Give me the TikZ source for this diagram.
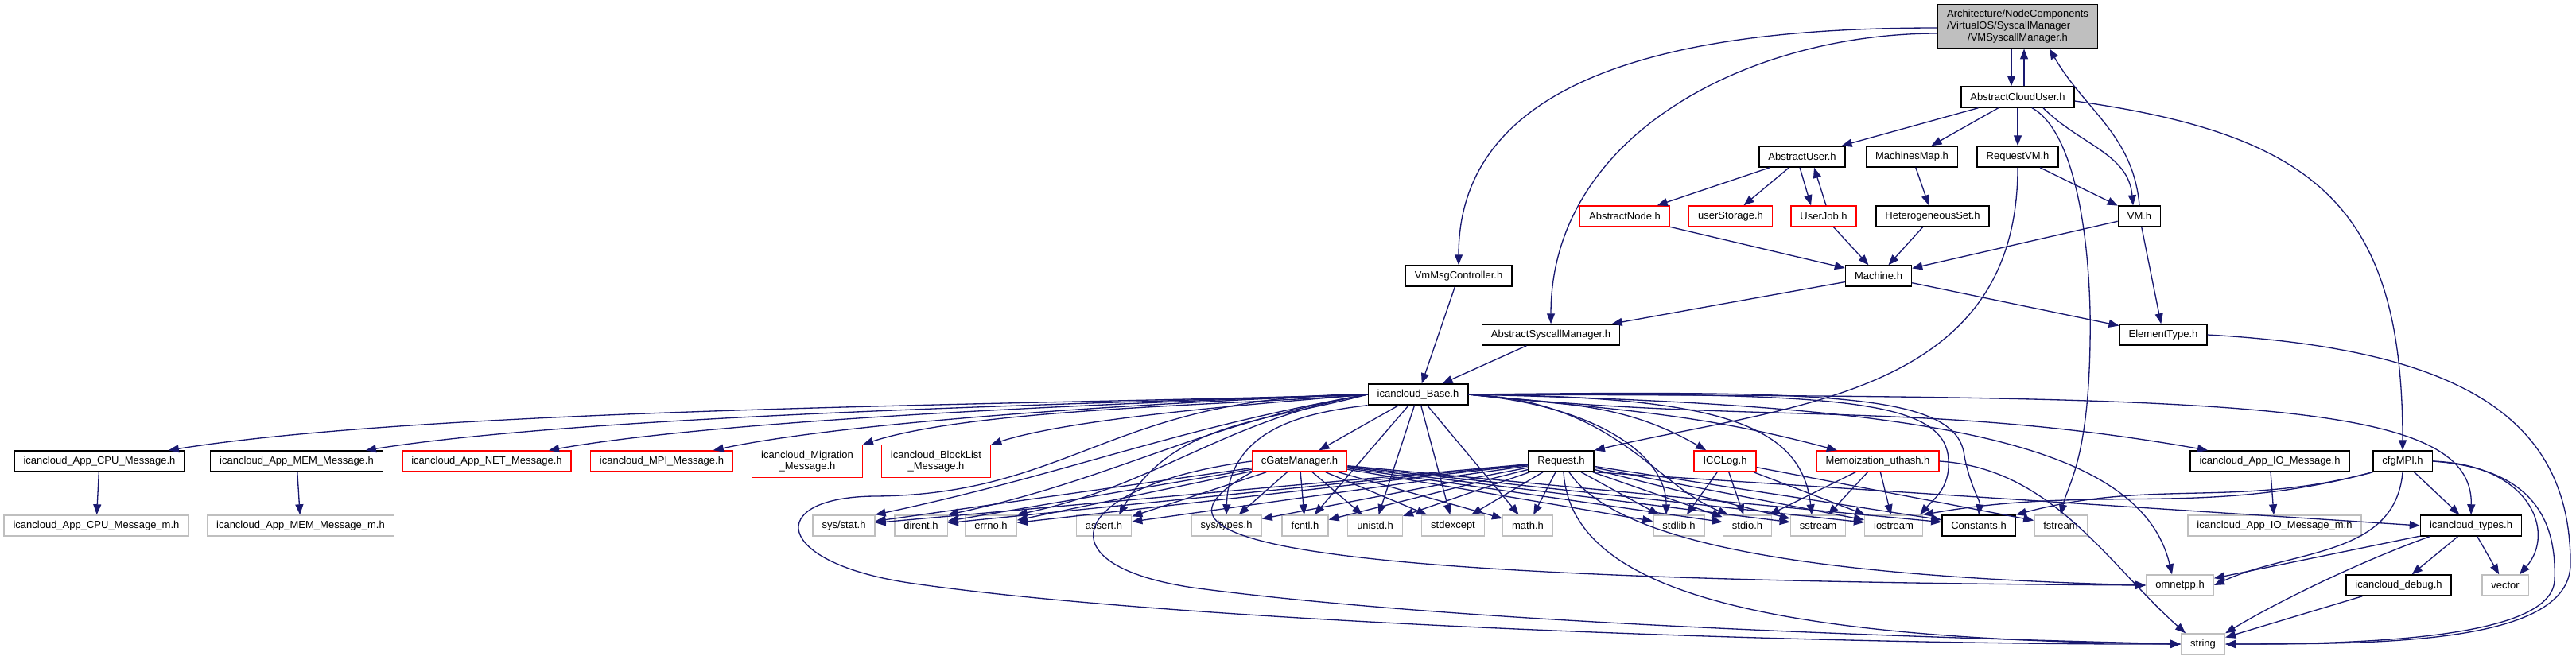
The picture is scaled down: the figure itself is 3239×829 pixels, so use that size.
\documentclass[tikz,border=0pt]{standalone}
\usepackage{fontspec}
\setmainfont{Liberation Sans}
\usetikzlibrary{arrows.meta}
\definecolor{edge}{HTML}{191970}
\definecolor{sysline}{HTML}{BFBFBF}
\definecolor{rootfill}{HTML}{BFBFBF}
\tikzset{
  filebox/.style={draw=black,fill=white,line width=0.35pt,font=\fontsize{3.25}{3.675}\selectfont,inner xsep=2.875pt,inner ysep=1.75pt,minimum height=6.5pt,align=center},
  rootbox/.style={filebox,fill=rootfill,align=left},
  redbox/.style={filebox,draw=red},
  sysbox/.style={filebox,draw=sysline},
  inc/.style={-{Triangle[length=3.25pt,width=2.5pt]},draw=edge,line width=0.33pt}
}

\begin{document}
\begin{tikzpicture}[x=0.25pt,y=0.25pt]
\useasboundingbox (0,0) rectangle (3239,829);

\node[rootbox] (root) at (2537,796) {Architecture/NodeComponents\\/VirtualOS/SyscallManager\\\hspace*{6.5pt}/VMSyscallManager.h};
\node[filebox] (acu) at (2537,707) {AbstractCloudUser.h};
\node[filebox] (au) at (2266,632) {AbstractUser.h};
\node[filebox] (mm) at (2404,632) {MachinesMap.h};
\node[filebox] (rvm) at (2537,632) {RequestVM.h};
\node[redbox] (an) at (2043,557) {AbstractNode.h};
\node[redbox] (us) at (2176,557) {userStorage.h};
\node[redbox] (uj) at (2293,557) {UserJob.h};
\node[filebox] (hs) at (2430,557) {HeterogeneousSet.h};
\node[filebox] (vm) at (2690,557) {VM.h};
\node[filebox] (vmc) at (1834,482) {VmMsgController.h};
\node[filebox] (mach) at (2362,482) {Machine.h};
\node[filebox] (asm) at (1950,408) {AbstractSyscallManager.h};
\node[filebox] (et) at (2720,408) {ElementType.h};
\node[filebox] (base) at (1783,333) {icancloud\_Base.h};

\node[filebox] (cpu) at (125,249) {icancloud\_App\_CPU\_Message.h};
\node[filebox] (mem) at (373,249) {icancloud\_App\_MEM\_Message.h};
\node[redbox] (net) at (612,249) {icancloud\_App\_NET\_Message.h};
\node[redbox] (mpi) at (832,249) {icancloud\_MPI\_Message.h};
\node[redbox] (mig) at (1015,249) {icancloud\_Migration\\\_Message.h};
\node[redbox] (bl) at (1177,249) {icancloud\_BlockList\\\_Message.h};
\node[redbox] (cgm) at (1634,249) {cGateManager.h};
\node[filebox] (req) at (1963,249) {Request.h};
\node[redbox] (icc) at (2169,249) {ICCLog.h};
\node[redbox] (memo) at (2361,249) {Memoization\_uthash.h};
\node[filebox] (io) at (2854,249) {icancloud\_App\_IO\_Message.h};
\node[filebox] (cfg) at (3021,249) {cfgMPI.h};

\node[sysbox] (cpum) at (121,168) {icancloud\_App\_CPU\_Message\_m.h};
\node[sysbox] (memm) at (378,168) {icancloud\_App\_MEM\_Message\_m.h};
\node[sysbox] (stat) at (1061,168) {sys/stat.h};
\node[sysbox] (dirent) at (1158,168) {dirent.h};
\node[sysbox] (errno) at (1246,168) {errno.h};
\node[sysbox] (assert) at (1388,168) {assert.h};
\node[sysbox] (systypes) at (1542,168) {sys/types.h};
\node[sysbox] (fcntl) at (1641,168) {fcntl.h};
\node[sysbox] (unistd) at (1729,168) {unistd.h};
\node[sysbox] (stdexcept) at (1827,168) {stdexcept};
\node[sysbox] (math) at (1921,168) {math.h};
\node[sysbox] (stdlib) at (2111,168) {stdlib.h};
\node[sysbox] (stdio) at (2197,168) {stdio.h};
\node[sysbox] (sstream) at (2286,168) {sstream};
\node[sysbox] (iostream) at (2381,168) {iostream};
\node[filebox] (const) at (2488,168) {Constants.h};
\node[sysbox] (fstream) at (2591,168) {fstream};
\node[sysbox] (iom) at (2860,168) {icancloud\_App\_IO\_Message\_m.h};
\node[filebox] (types) at (3107,168) {icancloud\_types.h};

\node[sysbox] (omnet) at (2741,93) {omnetpp.h};
\node[filebox] (debug) at (3016,93) {icancloud\_debug.h};
\node[sysbox] (vector) at (3150,93) {vector};
\node[sysbox] (string) at (2770,19) {string};

\draw[inc] ([xshift=-2pt]root.south) -- ([xshift=-2pt]acu.north);
\draw[inc] ([xshift=2pt]acu.north) -- ([xshift=2pt]root.south);
\draw[inc] ([yshift=-0.5pt]root.west) to[out=180,in=90] (vmc.north);
\draw[inc] ([yshift=-2.25pt]root.west) to[out=180,in=90] (asm.north);
\draw[inc] (vm.north) to[out=95,in=-60] ([xshift=10pt]root.south);

\foreach \t in {au,mm,rvm}
  \draw[inc] (acu) -- (\t);
\draw[inc] ([xshift=8pt]acu.south) to[out=-45,in=95] ([xshift=-2pt]vm.north);
\draw[inc] ([xshift=4.5pt]acu.south) .. controls (2615,660) and (2630,500) .. (2628,400) .. controls (2626,250) and (2600,220) .. (fstream.north);
\draw[inc] ([yshift=-1.25pt]acu.east) to[out=-8,in=90,looseness=1.3] (cfg.north);

\draw[inc] (au) -- (an);
\draw[inc] (au) -- (us);
\draw[inc] ([xshift=-0.75pt]au.south) -- ([xshift=-4pt]uj.north);
\draw[inc] ([xshift=0.75pt]uj.north) -- ([xshift=3.75pt]au.south);
\draw[inc] (mm) -- (hs);
\draw[inc] (rvm) -- (vm);
\draw[inc] (rvm.south) .. controls (2537,330) and (2250,320) .. (req.north east);
\foreach \s in {an,uj,hs,vm}
  \draw[inc] (\s) -- (mach);
\draw[inc] (vm) -- (et);
\draw[inc] (vmc) -- (base);
\draw[inc] (mach) -- (asm);
\draw[inc] (mach) -- (et);
\draw[inc] (asm) -- (base);
\draw[inc] (et.east) .. controls (3100,390) and (3232,300) .. (3232,120) .. controls (3232,20) and (3000,19) .. (string.east);

\foreach \t/\a in {cpu/9,mem/9,net/10,mpi/12}
  \draw[inc] (base.west) to[out=182,in=\a,looseness=0.6] (\t);
\foreach \t in {mig,bl}
  \draw[inc] (base.west) to[out=185,in=18,looseness=0.6] (\t.north east);
\foreach \t in {stat,dirent,errno}
  \draw[inc] (base.west) to[out=190,in=12] (\t.north east);
\draw[inc] (base.west) to[out=195,in=60] ([xshift=4.75pt]assert.north);
\draw[inc] (base.south west) .. controls (1640,310) and (1545,290) .. (systypes.north);
\foreach \t in {cgm,fcntl,unistd,stdexcept,math}
  \draw[inc] (base) -- (\t);
\draw[inc] (base.east) .. controls (2000,320) and (2095,260) .. ([xshift=-4pt]stdlib.north);
\draw[inc] (base.east) .. controls (2030,325) and (2080,220) .. ([xshift=-6pt]stdio.north);
\draw[inc] (base.east) .. controls (2150,330) and (2265,300) .. ([xshift=-2pt]sstream.north);
\draw[inc] (base.east) .. controls (2300,335) and (2447,330) .. (2450,250) .. controls (2452,215) and (2430,200) .. ([xshift=-1pt]iostream.north east);
\draw[inc] (base.east) .. controls (2300,338) and (2462,335) .. (2470,255) .. controls (2478,215) and (2490,200) .. (const.north);
\foreach \t/\a in {icc/150,memo/165,io/170}
  \draw[inc] (base.east) to[out=-6,in=\a] (\t);
\draw[inc] (base.east) .. controls (2800,330) and (3110,330) .. (types.north);
\draw[inc] (base.east) .. controls (2400,320) and (2690,280) .. ([xshift=-2.5pt]omnet.north);
\draw[inc] (base.west) .. controls (1400,333) and (1350,207) .. (1100,205) .. controls (960,204) and (970,120) .. (1150,95) .. controls (1500,45) and (2300,18) .. (string.west);

\foreach \s in {cgm,req}
  \foreach \t in {stat,dirent,errno,assert,systypes,fcntl,unistd,stdexcept,math,stdlib,stdio,sstream,iostream,const}
    \draw[inc] (\s) -- (\t);
\draw[inc] (cgm.south west) .. controls (1440,160) and (1500,100) .. (omnet.west);
\draw[inc] (cgm.west) .. controls (1350,220) and (1300,120) .. (1500,90) .. controls (1800,50) and (2300,30) .. (string.west);
\draw[inc] ([xshift=2.5pt]req.south) .. controls (2030,150) and (2250,105) .. (omnet.west);
\draw[inc] ([xshift=0.75pt]req.south) .. controls (1975,90) and (2200,25) .. (string.west);
\draw[inc] (req.south east) -- (types.west);

\foreach \t in {stdlib,stdio,iostream,fstream}
  \draw[inc] (icc) -- (\t);
\foreach \t in {stdio,sstream,iostream}
  \draw[inc] (memo) -- (\t);
\draw[inc] (memo.east) .. controls (2580,240) and (2650,120) .. ([xshift=-5.5pt]string.north);
\draw[inc] (io) -- (iom);

\draw[inc] (cfg.south west) to[out=195,in=10] (iostream.north east);
\draw[inc] (cfg.south west) to[out=195,in=15] (const.north east);
\draw[inc] (cfg.south) to[out=-95,in=25] (omnet.east);
\draw[inc] (cfg) -- (types);
\draw[inc] (cfg.east) .. controls (3180,245) and (3215,160) .. ([xshift=4.5pt]vector.north);
\draw[inc] (cfg.east) .. controls (3180,240) and (3215,180) .. (3212,100) .. controls (3210,30) and (3000,19) .. (string.east);

\draw[inc] (types) -- (omnet);
\draw[inc] ([xshift=3pt]types.south west) .. controls (2960,120) and (2860,70) .. (string.north east);
\draw[inc] (types) -- (debug);
\draw[inc] (types) -- (vector);
\draw[inc] (debug) -- (string);
\draw[inc] (cpu) -- (cpum);
\draw[inc] (mem) -- (memm);
\end{tikzpicture}
\end{document}
